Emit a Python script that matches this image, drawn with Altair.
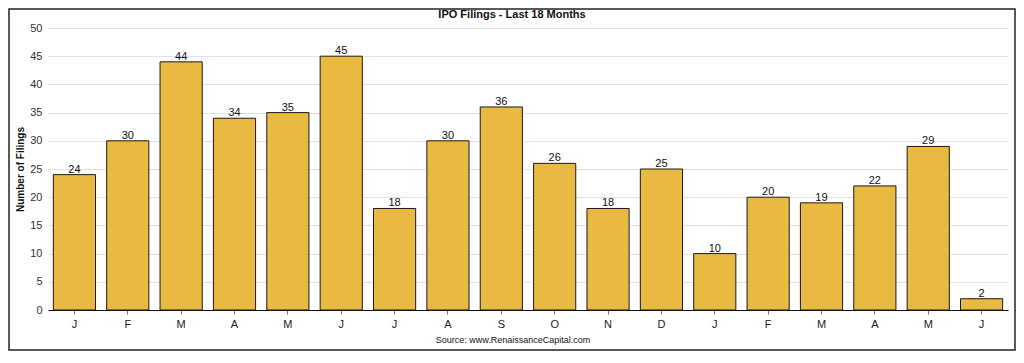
import altair as alt
import pandas as pd

months = ["J", "F", "M", "A", "M", "J", "J", "A", "S", "O", "N", "D", "J", "F", "M", "A", "M", "J"]
filings = [24, 30, 44, 34, 35, 45, 18, 30, 36, 26, 18, 25, 10, 20, 19, 22, 29, 2]
title_text = "IPO Filings - Last 18 Months"
source_text = "Source: www.RenaissanceCapital.com"

df = pd.DataFrame({"idx": list(range(len(months))), "month": months, "filings": filings})

W, H = 960, 282
FONT = "Liberation Sans"
label_expr = "[" + ",".join(f"'{m}'" for m in months) + "][datum.value]"

x = alt.X("idx:O", title=None,
          scale=alt.Scale(paddingInner=0.21, paddingOuter=0.1),
          axis=alt.Axis(labelExpr=label_expr, labelAngle=0, tickSize=4, tickColor="#777",
                        domainColor="#111", labelFont=FONT, labelFontSize=11,
                        labelColor="#222", labelPadding=4, grid=False))
y = alt.Y("filings:Q", title="Number of Filings",
          scale=alt.Scale(domain=[0, 50], nice=False),
          axis=alt.Axis(values=list(range(0, 51, 5)), grid=True, gridColor="#e2e2e2",
                        domain=False, ticks=False, labelPadding=6, labelFont=FONT,
                        labelFontSize=11, labelColor="#333", titleFont=FONT,
                        titleFontSize=10, titleFontWeight="bold", titleColor="#111",
                        titlePadding=4))

base = alt.Chart(df).encode(x=x, y=y)
bars = base.mark_bar(color="#E9BA42", stroke="#1a1a1a", strokeWidth=1)
labels = base.mark_text(dy=-5, font=FONT, fontSize=11, color="#111").encode(text="filings:Q")

title = alt.Chart(pd.DataFrame({"t": [title_text]})).mark_text(
    font=FONT, fontSize=11, fontWeight="bold", color="#111", baseline="top").encode(
    x=alt.value(464), y=alt.value(-19), text="t:N")
source = alt.Chart(pd.DataFrame({"t": [source_text]})).mark_text(
    font=FONT, fontSize=9, color="#111").encode(
    x=alt.value(465), y=alt.value(30 + H), text="t:N")
frame = alt.Chart(pd.DataFrame({"a": [0]})).mark_rect(
    fill=None, stroke="#222", strokeWidth=1.5).encode(
    x=alt.value(-39), x2=alt.value(W + 7), y=alt.value(-19), y2=alt.value(H + 40))

chart = alt.layer(bars, labels, title, source, frame).properties(
    width=W, height=H,
    autosize=alt.AutoSizeParams(type="none"),
    padding={"left": 40, "top": 20, "right": 8, "bottom": 42},
).configure_view(stroke=None)

chart.save("out.html", embed_options={"renderer": "svg", "actions": False})
